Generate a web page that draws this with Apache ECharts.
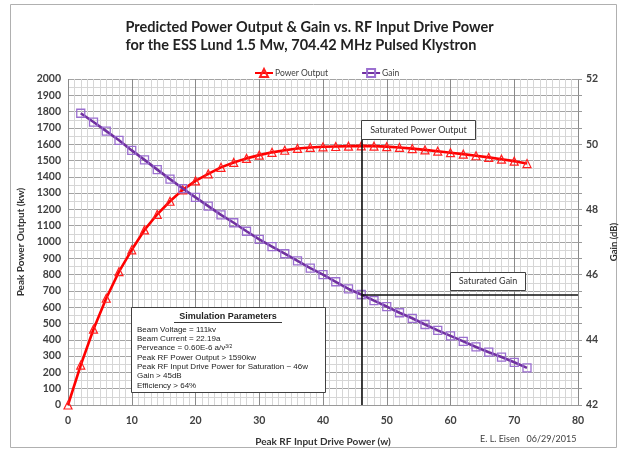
<!DOCTYPE html>
<html>
<head>
<meta charset="utf-8">
<script src="https://cdn.jsdelivr.net/npm/echarts@6/dist/echarts.min.js"></script>
<style>
html,body{margin:0;padding:0;background:#fff;}
#chart{width:619px;height:450px;}
</style>
</head>
<body>
<div id="chart"></div>
<script>
// ---- Data ----
const powerDriveW = [0,2,4,6,8,10,12,14,16,18,20,22,24,26,28,30,32,34,36,38,40,42,44,46,48,50,52,54,56,58,60,62,64,66,68,70,72];
const powerKw = [0,245,465,655,818,952,1074,1170,1250,1320,1375,1418,1458,1488,1513,1533,1550,1563,1574,1580,1584,1586,1588,1590,1588,1585,1580,1573,1565,1557,1548,1539,1529,1519,1508,1496,1481];
const gainDriveW = [2,4,6,8,10,12,14,16,18,20,22,24,26,28,30,32,34,36,38,40,42,44,46,48,50,52,54,56,58,60,62,64,66,68,70,72];
const gainDb = [50.95,50.68,50.40,50.12,49.81,49.52,49.22,48.93,48.64,48.37,48.10,47.83,47.59,47.33,47.08,46.86,46.64,46.42,46.20,46.00,45.78,45.56,45.39,45.20,45.02,44.83,44.66,44.47,44.29,44.12,43.95,43.78,43.62,43.47,43.31,43.14];
const satDriveW = 46;
const satGainDb = 45.39;
const satLineTopKw = 1632;
const titleLines = ['Predicted Power Output & Gain vs. RF Input Drive Power', 'for the ESS Lund 1.5 Mw, 704.42 MHz Pulsed Klystron'];
const simTitle = 'Simulation Parameters';
const simLines = [
  'Beam Voltage = 111kv',
  'Beam Current = 22.19a',
  '__PERV__',
  'Peak RF Power Output > 1590kw',
  'Peak RF Input Drive Power for Saturation ~ 46w',
  'Gain > 45dB',
  'Efficiency > 64%'
];

const powerData = powerDriveW.map((x, i) => [x, powerKw[i]]);
const gainData = gainDriveW.map((x, i) => [x, gainDb[i]]);

const chart = echarts.init(document.getElementById('chart'), null, {renderer: 'canvas'});
const FONT = 'Lato';
const SANS = 'Liberation Sans';

const simTexts = simLines.map((t, i) => {
  const y = 329.5 + i * 9.35;
  if (t === '__PERV__') {
    return {type: 'text', z: 21, x: 137, y: y, style: {
      text: '{a|Perveance = 0.60E-6 a/v}{s|3/2}', verticalAlign: 'middle',
      rich: {a: {fontFamily: SANS, fontSize: 8, fill: '#222'}, s: {fontFamily: SANS, fontSize: 5, fill: '#222', verticalAlign: 'top'}},
    }};
  }
  return {type: 'text', z: 21, x: 137, y: y, style: {text: t, fontFamily: SANS, fontSize: 8, fill: '#222', verticalAlign: 'middle'}};
});

const option = {
  animation: false,
  backgroundColor: '#fff',
  grid: {left: 68, right: 41, top: 79, bottom: 45, containLabel: false, outerBoundsMode: 'none'},
  legend: {
    top: 63, left: 249,
    itemWidth: 18, itemHeight: 10, itemGap: 33,
    textStyle: {fontFamily: FONT, fontSize: 8.5, color: '#404040', padding: [0,0,0,-3]},
    data: ['Power Output', 'Gain']
  },
  xAxis: {
    type: 'value', min: 0, max: 80, interval: 10,
    name: 'Peak RF Input Drive Power (w)', nameLocation: 'middle', nameGap: 32,
    nameTextStyle: {fontFamily: FONT, fontWeight: 'bold', fontSize: 10, color: '#333'},
    axisLine: {show: true, lineStyle: {color: '#999'}},
    axisTick: {show: false},
    axisLabel: {fontFamily: FONT, fontWeight: 'bold', fontSize: 10.5, color: '#404040', margin: 10},
    splitLine: {show: true, lineStyle: {color: '#8a8a8a', width: 1}},
    minorTick: {show: false, splitNumber: 10},
    minorSplitLine: {show: true, lineStyle: {color: '#d6d6d6', width: 1}}
  },
  yAxis: [{
    type: 'value', min: 0, max: 2000, interval: 100,
    name: 'Peak Power Output (kw)', nameLocation: 'middle', nameGap: 40, nameRotate: 90,
    nameTextStyle: {fontFamily: FONT, fontWeight: 'bold', fontSize: 10, color: '#333'},
    axisLine: {show: false},
    axisTick: {show: false},
    axisLabel: {fontFamily: FONT, fontWeight: 'bold', fontSize: 10.5, color: '#404040', margin: 7, formatter: v => String(v)},
    splitLine: {show: true, lineStyle: {color: '#a3a3a3', width: 1}},
    minorTick: {show: false, splitNumber: 2},
    minorSplitLine: {show: true, lineStyle: {color: '#d6d6d6', width: 1}}
  }, {
    type: 'value', min: 42, max: 52, interval: 2, position: 'right',
    name: 'Gain (dB)', nameLocation: 'middle', nameGap: 27, nameRotate: 90,
    nameTextStyle: {fontFamily: FONT, fontWeight: 'bold', fontSize: 9.5, color: '#333'},
    axisLine: {show: false},
    axisTick: {show: true, length: 4, lineStyle: {color: '#999'}},
    minorTick: {show: true, splitNumber: 4, length: 4, lineStyle: {color: '#999'}},
    axisLabel: {fontFamily: FONT, fontWeight: 'bold', fontSize: 10.5, color: '#404040', margin: 8},
    splitLine: {show: false}
  }],
  series: [{
    name: 'Power Output', type: 'line', yAxisIndex: 0, data: powerData,
    symbol: 'triangle', symbolSize: 8,
    lineStyle: {color: '#ff0000', width: 2.6},
    itemStyle: {color: 'rgba(255,255,255,0)', borderColor: '#ff2020', borderWidth: 1.2},
    emphasis: {disabled: true},
    z: 3,
    markLine: {
      silent: true, symbol: 'none', label: {show: false},
      lineStyle: {color: '#111', width: 1.6, type: 'solid'},
      data: [[{coord: [satDriveW, 0]}, {coord: [satDriveW, satLineTopKw]}]]
    }
  }, {
    name: 'Gain', type: 'line', yAxisIndex: 1, data: gainData,
    symbol: 'rect', symbolSize: 8,
    lineStyle: {color: '#7030a0', width: 2.6},
    itemStyle: {color: 'rgba(255,255,255,0)', borderColor: '#9b6fd0', borderWidth: 1.3},
    emphasis: {disabled: true},
    z: 4,
    markLine: {
      silent: true, symbol: 'none', label: {show: false},
      lineStyle: {color: '#111', width: 1.6, type: 'solid'},
      data: [[{coord: [satDriveW, satGainDb]}, {coord: [80, satGainDb]}]]
    }
  }],
  graphic: [
    {type: 'rect', shape: {x: 10.5, y: 4.5, width: 606, height: 443}, style: {fill: 'none', stroke: '#b0b0b0', lineWidth: 1}, z: -10, silent: true},
    {type: 'text', left: 'center', top: 18, style: {text: titleLines.join('\n'), fontFamily: FONT, fontWeight: 'bold', fontSize: 14.5, lineHeight: 18, fill: '#222', align: 'center'}},
    // Saturated power output box
    {type: 'rect', z: 20, shape: {x: 361.5, y: 120.5, width: 114, height: 19}, style: {fill: '#fff', stroke: '#404040', lineWidth: 1}},
    {type: 'text', z: 21, x: 418.5, y: 130, style: {text: 'Saturated Power Output', fontFamily: FONT, fontSize: 9, fill: '#333', align: 'center', verticalAlign: 'middle'}},
    // Saturated gain box
    {type: 'rect', z: 20, shape: {x: 450.5, y: 272.5, width: 75, height: 18}, style: {fill: '#fff', stroke: '#404040', lineWidth: 1}},
    {type: 'text', z: 21, x: 488, y: 281.5, style: {text: 'Saturated Gain', fontFamily: FONT, fontSize: 9, fill: '#333', align: 'center', verticalAlign: 'middle'}},
    // Simulation parameters box
    {type: 'rect', z: 20, shape: {x: 131.5, y: 307.5, width: 194, height: 85}, style: {fill: '#fff', stroke: '#404040', lineWidth: 1}},
    {type: 'text', z: 21, x: 228, y: 317, style: {text: simTitle, fontFamily: SANS, fontWeight: 'bold', fontSize: 9, fill: '#222', align: 'center', verticalAlign: 'middle'}},
    {type: 'line', z: 21, shape: {x1: 174, y1: 322.5, x2: 282, y2: 322.5}, style: {stroke: '#222', lineWidth: 0.9}}
  ].concat(simTexts).concat([
    {type: 'text', left: 480, top: 435, style: {text: 'E. L. Eisen   06/29/2015', fontFamily: FONT, fontSize: 9, fill: '#404040'}}
  ])
};
chart.setOption(option);
</script>
</body>
</html>
